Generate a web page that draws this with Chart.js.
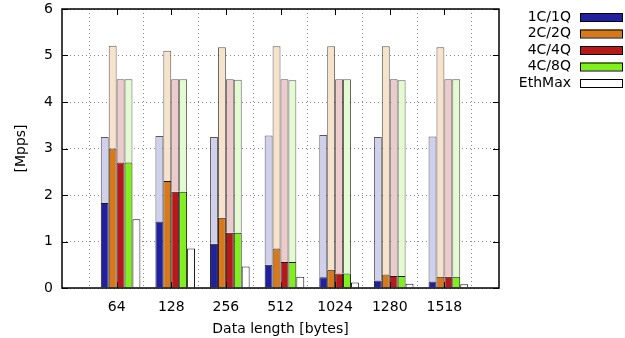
<!DOCTYPE html>
<html>
<head>
<meta charset="utf-8">
<script src="https://cdn.jsdelivr.net/npm/chart.js@4"></script>
<style>
	html, body { margin: 0; padding: 0; background: #fff; }
</style>
</head>
<body>
<canvas id="chart" width="625" height="338"></canvas>
<script>
// first and last slots are empty so the real groups sit on inner ticks
const labels = ['', '64', '128', '256', '512', '1024', '1280', '1518', ''];
const seriesNames = ['1C/1Q', '2C/2Q', '4C/4Q', '4C/8Q', 'EthMax'];

// measured rate (solid part) and peak rate (top of pale part), Mpps
const q1Rate  = [null, 1.83, 1.43, 0.95, 0.50, 0.23, 0.16, 0.14, null];
const q1Peak  = [null, 3.25, 3.27, 3.25, 3.28, 3.29, 3.25, 3.26, null];
const q2Rate  = [null, 3.00, 2.30, 1.51, 0.85, 0.39, 0.29, 0.24, null];
const q2Peak  = [null, 5.21, 5.10, 5.18, 5.20, 5.20, 5.20, 5.18, null];
const q4Rate  = [null, 2.70, 2.07, 1.19, 0.56, 0.31, 0.26, 0.24, null];
const q4Peak  = [null, 4.49, 4.49, 4.49, 4.49, 4.49, 4.49, 4.49, null];
const q8Rate  = [null, 2.70, 2.07, 1.19, 0.56, 0.31, 0.26, 0.24, null];
const q8Peak  = [null, 4.49, 4.49, 4.48, 4.47, 4.49, 4.47, 4.49, null];
const ethMax  = [null, 1.48, 0.85, 0.46, 0.24, 0.12, 0.09, 0.08, null];

const solidColors = ['#2020a0', '#d97818', '#b81818', '#80f01c', '#ffffff'];
const paleColors  = ['#d0d0ec', '#f7e2cc', '#eecbcb', '#e4fbd2'];

Chart.defaults.font.family = 'DejaVu Sans';
Chart.defaults.font.size = 14;
Chart.defaults.color = '#000';

function pale(rate, peak) {
	return peak.map((p, i) => p == null ? null : +(p - rate[i]).toFixed(2));
}

const pairs = [[q1Rate, q1Peak], [q2Rate, q2Peak], [q4Rate, q4Peak], [q8Rate, q8Peak]];
const datasets = [{ label: 'pad', stack: 'pad', data: labels.map(() => null) }];
pairs.forEach(([rate, peak], i) => {
	datasets.push({ label: seriesNames[i], stack: 's' + i, data: rate,
		backgroundColor: solidColors[i], borderColor: 'rgba(0,0,0,0.9)', borderWidth: 1 });
	datasets.push({ label: seriesNames[i] + ' peak', stack: 's' + i, data: pale(rate, peak),
		backgroundColor: paleColors[i], borderColor: 'rgba(0,0,0,0.65)', borderWidth: 1 });
});
datasets.push({ label: 'EthMax', stack: 'eth', data: ethMax,
	backgroundColor: solidColors[4], borderColor: 'rgba(0,0,0,0.9)', borderWidth: 1 });

const framePlugin = {
	id: 'frame',
	beforeDatasetsDraw(chart) {
		const { ctx, chartArea: a, scales: { x, y } } = chart;
		ctx.save();
		ctx.strokeStyle = '#000';
		ctx.lineWidth = 1;
		ctx.beginPath();
		for (const t of y.ticks) {
			const py = Math.round(y.getPixelForValue(t.value)) + 0.5;
			ctx.moveTo(a.left, py); ctx.lineTo(a.left + 6, py);
			ctx.moveTo(a.right, py); ctx.lineTo(a.right - 6, py);
		}
		for (let i = 1; i < labels.length - 1; i++) {
			const px = Math.round(x.getPixelForValue(i)) + 0.5;
			ctx.moveTo(px, a.top); ctx.lineTo(px, a.top + 6);
			ctx.moveTo(px, a.bottom); ctx.lineTo(px, a.bottom - 6);
		}
		ctx.stroke();
		ctx.restore();
	},
	afterDatasetsDraw(chart) {
		const { ctx, chartArea: a } = chart;
		ctx.save();
		ctx.strokeStyle = '#000';
		ctx.lineWidth = 1.5;
		ctx.strokeRect(a.left, a.top, a.right - a.left, a.bottom - a.top);
		ctx.restore();
	},
	afterDraw(chart) {
		const { ctx } = chart;
		ctx.save();
		ctx.font = '14px "DejaVu Sans"';
		ctx.textAlign = 'right';
		ctx.textBaseline = 'middle';
		seriesNames.forEach((name, i) => {
			const cy = 17 + i * 16.5;
			ctx.fillStyle = '#000';
			ctx.fillText(name, 571, cy);
			ctx.fillStyle = solidColors[i];
			ctx.fillRect(580, cy - 4, 42, 8);
			ctx.strokeStyle = '#000';
			ctx.lineWidth = 1;
			ctx.strokeRect(580.5, cy - 3.5, 42, 8);
		});
		ctx.restore();
	}
};

new Chart(document.getElementById('chart'), {
	type: 'bar',
	data: { labels, datasets },
	plugins: [framePlugin],
	options: {
		responsive: false,
		animation: false,
		devicePixelRatio: 1,
		layout: { padding: { top: 9, right: 126, left: 0, bottom: 0 } },
		datasets: { bar: { categoryPercentage: 0.87, barPercentage: 1.0, borderSkipped: 'start' } },
		plugins: { legend: { display: false }, tooltip: { enabled: false } },
		scales: {
			x: {
				stacked: true,
				offset: false,
				grid: { color: '#888', drawTicks: false },
				border: { display: false, dash: [1, 3] },
				ticks: { padding: 11, autoSkip: false, maxRotation: 0 },
				title: { display: true, text: 'Data length [bytes]', padding: { top: 6, bottom: 0 } },
				afterFit(scale) { scale.height = 50; scale.paddingLeft = 0; scale.paddingRight = 0; }
			},
			y: {
				stacked: true,
				min: 0,
				max: 6,
				grid: { color: '#888', drawTicks: false },
				border: { display: false, dash: [1, 3] },
				ticks: { stepSize: 1, padding: 9 },
				title: { display: true, text: '[Mpps]', padding: { top: 13, bottom: 0 } },
				afterFit(scale) { scale.width = 62; scale.paddingTop = 0; scale.paddingBottom = 0; }
			}
		}
	}
});
</script>
</body>
</html>
